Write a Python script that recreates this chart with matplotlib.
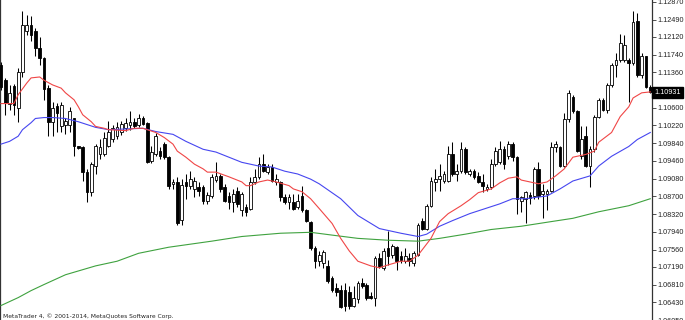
import matplotlib
matplotlib.use("Agg")
import matplotlib.pyplot as plt
import matplotlib.transforms as mtransforms
import numpy as np

opens = [1.1151,1.1119,1.1069,1.1107,1.1060,1.1136,1.1225,1.1238,1.1225,1.1189,
         1.1166,1.1102,1.1030,1.1064,1.1020,1.1022,1.1024,1.1037,1.0977,1.0975,
         1.0922,1.0880,1.0935,1.0960,1.0960,1.0979,1.0992,1.0999,1.1007,1.1016,
         1.1024,1.1030,1.1022,1.1037,1.1028,1.0946,1.0960,1.0967,1.0982,1.0954,
         1.0897,1.0901,1.0820,1.0901,1.0893,1.0886,1.0890,1.0890,1.0861,1.0871,
         1.0905,1.0914,1.0890,1.0871,1.0859,1.0882,1.0840,1.0848,1.0844,1.0901,
         1.0912,1.0939,1.0922,1.0933,1.0901,1.0901,1.0869,1.0859,1.0859,1.0848,
         1.0871,1.0840,1.0816,1.0759,1.0731,1.0727,1.0721,1.0695,1.0674,1.0670,
         1.0670,1.0666,1.0636,1.0649,1.0685,1.0681,1.0657,1.0653,1.0738,1.0717,
         1.0759,1.0744,1.0761,1.0742,1.0731,1.0738,1.0727,1.0744,1.0818,1.0801,
         1.0850,1.0901,1.0907,1.0903,1.0903,1.0960,1.0918,1.0924,1.0971,1.0918,
         1.0924,1.0914,1.0901,1.0886,1.0890,1.0939,1.0943,1.0971,1.0956,1.0982,
         1.0954,1.0861,1.0865,1.0873,1.0871,1.0929,1.0876,1.0876,1.0882,1.0975,
         1.0975,1.0935,1.1035,1.1083,1.1052,1.0956,1.0999,1.0935,1.0971,1.1041,
         1.1077,1.1056,1.1109,1.1151,1.1162,1.1162,1.1162,1.1155,1.1247,1.1130,
         1.1172,1.1105]
highs = [1.1158,1.1124,1.1109,1.1111,1.1145,1.1268,1.1259,1.1257,1.1230,1.1211,
         1.1168,1.1109,1.1073,1.1071,1.1073,1.1039,1.1062,1.1039,1.0979,1.0977,
         1.0929,1.0943,1.0982,1.0992,1.1007,1.1032,1.1022,1.1030,1.1032,1.1039,
         1.1052,1.1039,1.1047,1.1043,1.1030,1.0977,1.1005,1.0975,1.0986,1.0956,
         1.0907,1.0912,1.0907,1.0918,1.0924,1.0912,1.0901,1.0895,1.0880,1.0918,
         1.0943,1.0918,1.0897,1.0880,1.0886,1.0890,1.0880,1.0854,1.0912,1.0929,
         1.0954,1.0960,1.0939,1.0939,1.0918,1.0903,1.0876,1.0876,1.0876,1.0876,
         1.0893,1.0844,1.0818,1.0763,1.0753,1.0755,1.0734,1.0700,1.0685,1.0681,
         1.0685,1.0678,1.0678,1.0689,1.0695,1.0685,1.0666,1.0742,1.0748,1.0759,
         1.0795,1.0767,1.0763,1.0753,1.0759,1.0748,1.0753,1.0812,1.0823,1.0854,
         1.0912,1.0929,1.0939,1.0924,1.0977,1.0986,1.0939,1.0986,1.0975,1.0929,
         1.0929,1.0922,1.0918,1.0897,1.0950,1.0975,1.0988,1.0977,1.0988,1.0986,
         1.0956,1.0871,1.0882,1.0880,1.0933,1.0943,1.0897,1.0886,1.0986,1.0988,
         1.0977,1.1049,1.1098,1.1088,1.1056,1.1020,1.1020,1.0977,1.1045,1.1081,
         1.1081,1.1113,1.1155,1.1177,1.1219,1.1215,1.1166,1.1268,1.1264,1.1177,
         1.1172,1.1109]
lows = [1.1098,1.1045,1.1056,1.1045,1.1030,1.1126,1.1215,1.1204,1.1172,1.1151,
        1.1077,1.0999,1.0999,1.1009,1.1009,1.1003,1.1007,1.0956,1.0971,1.0903,
        1.0859,1.0871,1.0918,1.0950,1.0956,1.0975,1.0986,1.0992,1.1001,1.1011,
        1.1013,1.1016,1.1018,1.1022,1.0941,1.0941,1.0956,1.0950,1.0950,1.0886,
        1.0886,1.0808,1.0808,1.0865,1.0886,1.0869,1.0871,1.0854,1.0854,1.0867,
        1.0901,1.0880,1.0859,1.0844,1.0837,1.0848,1.0827,1.0827,1.0840,1.0897,
        1.0907,1.0922,1.0918,1.0901,1.0895,1.0861,1.0854,1.0844,1.0840,1.0844,
        1.0837,1.0816,1.0755,1.0717,1.0721,1.0717,1.0685,1.0664,1.0657,1.0630,
        1.0625,1.0628,1.0632,1.0642,1.0674,1.0647,1.0649,1.0636,1.0717,1.0712,
        1.0723,1.0738,1.0712,1.0727,1.0727,1.0721,1.0721,1.0742,1.0799,1.0799,
        1.0848,1.0882,1.0882,1.0899,1.0901,1.0914,1.0903,1.0920,1.0918,1.0914,
        1.0907,1.0899,1.0880,1.0882,1.0886,1.0935,1.0939,1.0929,1.0950,1.0946,
        1.0833,1.0837,1.0812,1.0854,1.0865,1.0865,1.0823,1.0840,1.0880,1.0965,
        1.0933,1.0933,1.1030,1.1049,1.0965,1.0950,1.0933,1.0890,1.0965,1.1039,
        1.1052,1.1049,1.1105,1.1126,1.1158,1.1158,1.1073,1.1151,1.1126,1.1124,
        1.1102,1.1092]
closes = [1.1105,1.1071,1.1092,1.1066,1.1136,1.1238,1.1238,1.1215,1.1189,1.1166,
          1.1100,1.1030,1.1060,1.1049,1.1066,1.1032,1.1052,1.0977,1.0973,1.0922,
          1.0880,1.0939,1.0977,1.0975,1.0996,1.1009,1.1016,1.1018,1.1026,1.1028,
          1.1030,1.1020,1.1039,1.1026,1.0943,1.0965,1.0999,1.0956,1.0954,1.0893,
          1.0901,1.0812,1.0895,1.0893,1.0907,1.0903,1.0882,1.0861,1.0873,1.0912,
          1.0914,1.0886,1.0861,1.0859,1.0876,1.0854,1.0876,1.0837,1.0901,1.0912,
          1.0939,1.0924,1.0933,1.0903,1.0907,1.0869,1.0859,1.0869,1.0844,1.0861,
          1.0840,1.0818,1.0759,1.0731,1.0744,1.0751,1.0689,1.0670,1.0664,1.0632,
          1.0636,1.0636,1.0653,1.0685,1.0678,1.0653,1.0653,1.0738,1.0721,1.0753,
          1.0742,1.0763,1.0731,1.0734,1.0742,1.0731,1.0748,1.0808,1.0801,1.0850,
          1.0903,1.0907,1.0914,1.0918,1.0960,1.0918,1.0924,1.0971,1.0922,1.0924,
          1.0912,1.0901,1.0893,1.0890,1.0939,1.0967,1.0971,1.0939,1.0982,1.0954,
          1.0865,1.0869,1.0880,1.0867,1.0929,1.0871,1.0882,1.0882,1.0975,1.0982,
          1.0935,1.1035,1.1092,1.1052,1.0967,1.0992,1.0935,1.0971,1.1041,1.1077,
          1.1056,1.1109,1.1151,1.1162,1.1198,1.1194,1.1155,1.1243,1.1130,1.1172,
          1.1105,1.1093]

# moving averages, sampled at bar indices
ma_fast_bar = [0,3,4,6,7,9,10,12,14,15,17,18,19,21,22,24,25,29,31,33,36,38,40,41,43,45,47,48,50,
               53,56,57,58,60,62,64,67,68,70,72,74,77,79,81,83,86,88,90,93,95,97,100,102,104,107,
               109,111,114,116,118,120,121,123,125,127,129,131,133,136,138,139,142,144,146,147,149,151]
ma_fast_val = [1.1069,1.1069,1.1088,1.1113,1.1124,1.1126,1.1119,1.1109,1.1102,1.1092,1.1077,1.1062,
               1.1045,1.1030,1.1020,1.1016,1.1013,1.1011,1.1016,1.1016,1.1007,1.0996,1.0982,1.0967,
               1.0954,1.0939,1.0929,1.0922,1.0922,1.0912,1.0901,1.0893,1.0893,1.0901,1.0905,1.0901,
               1.0893,1.0886,1.0880,1.0865,1.0844,1.0812,1.0780,1.0753,1.0731,1.0721,1.0717,1.0723,
               1.0731,1.0731,1.0744,1.0780,1.0816,1.0833,1.0850,1.0863,1.0878,1.0886,1.0899,1.0909,
               1.0912,1.0905,1.0901,1.0897,1.0901,1.0914,1.0929,1.0954,1.0960,1.0967,1.0986,1.1007,
               1.1041,1.1062,1.1081,1.1092,1.1094]
ma_mid_bar = [0,2,4,5,7,8,10,12,15,18,20,22,25,33,36,40,43,47,50,53,56,60,63,66,69,72,74,79,83,
              88,93,97,99,102,105,109,112,116,119,122,127,130,133,137,139,142,146,148,151]
ma_mid_val = [1.0982,1.0988,1.0999,1.1013,1.1028,1.1037,1.1039,1.1039,1.1037,1.1030,1.1024,1.1018,
              1.1013,1.1016,1.1009,1.1003,1.0988,1.0971,1.0965,1.0954,1.0943,1.0935,1.0933,1.0924,
              1.0918,1.0907,1.0897,1.0865,1.0829,1.0801,1.0791,1.0784,1.0789,1.0806,1.0818,1.0833,
              1.0842,1.0854,1.0865,1.0865,1.0871,1.0886,1.0903,1.0914,1.0935,1.0956,1.0977,1.0992,
              1.1007]
ma_slow_bar = [0,4,7,10,15,22,27,32,39,49,56,65,72,77,83,90,97,102,108,114,121,128,133,139,146,151]
ma_slow_val = [1.0636,1.0653,1.0668,1.0681,1.0702,1.0721,1.0731,1.0748,1.0761,1.0774,1.0784,1.0791,
               1.0793,1.0787,1.0780,1.0776,1.0774,1.0780,1.0789,1.0799,1.0806,1.0816,1.0823,1.0837,
               1.0850,1.0865]

tick_prices = [1.12870, 1.12490, 1.12120, 1.11740, 1.11360, 1.10600, 1.10220, 1.09840,
               1.09460, 1.09080, 1.08700, 1.08320, 1.07940, 1.07560, 1.07190, 1.06810,
               1.06430, 1.06050]
last_price = 1.10931
footer = "MetaTrader 4, \u00a9 2001-2014, MetaQuotes Software Corp."

W, H = 685, 320
fig = plt.figure(figsize=(W / 100, H / 100), dpi=100)
fig.patch.set_facecolor("white")
ax = fig.add_axes([0, 0, 652 / W, 1])
ax.set_facecolor("white")

o = np.array(opens); h = np.array(highs); l = np.array(lows); c = np.array(closes)
x = np.arange(len(o))
up = c >= o
bottom = np.minimum(o, c)
height = np.maximum(np.abs(c - o), 0.00008)

ax.vlines(x, l, h, color="black", lw=0.75, zorder=2)
ax.bar(x[up], height[up], bottom=bottom[up], width=0.62, facecolor="white",
       edgecolor="black", lw=0.6, zorder=3)
ax.bar(x[~up], height[~up], bottom=bottom[~up], width=0.62, facecolor="black",
       edgecolor="black", lw=0.6, zorder=3)

ax.plot(ma_slow_bar, ma_slow_val, color="#3fa23f", lw=0.8, zorder=4)
ax.plot(ma_mid_bar, ma_mid_val, color="#4646f0", lw=0.8, zorder=4)
ax.plot(ma_fast_bar, ma_fast_val, color="#f04646", lw=0.8, zorder=4)

ax.set_xlim(-0.23, 151.4)
ax.set_ylim(1.0609, 1.1291)
ax.set_xticks([])
ax.yaxis.tick_right()
ax.set_yticks(tick_prices)
ax.set_yticklabels([f"{t:.5f}" for t in tick_prices], fontsize=5.2, color="#222222",
                   family="Liberation Sans")
ax.tick_params(axis="y", length=3, width=0.6, pad=1.2, color="#333333")
for s in ("top", "bottom"):
    ax.spines[s].set_visible(False)
ax.spines["left"].set_linewidth(0.9)
ax.spines["right"].set_linewidth(0.9)
ax.spines["left"].set_color("#333333")
ax.spines["right"].set_color("#333333")

trans = mtransforms.blended_transform_factory(ax.transAxes, ax.transData)
ax.text(1.004, last_price, f"{last_price:.5f}", transform=trans, ha="left", va="center",
        fontsize=5.2, color="white", family="Liberation Sans", zorder=6, clip_on=False,
        bbox=dict(boxstyle="square,pad=0.3", fc="black", ec="black"))

fig.text(3 / W, 4 / H, footer, fontsize=4.3, color="#222222", ha="left", va="center",
         family="DejaVu Sans")

fig.savefig("out.png", dpi=100, facecolor="white")
